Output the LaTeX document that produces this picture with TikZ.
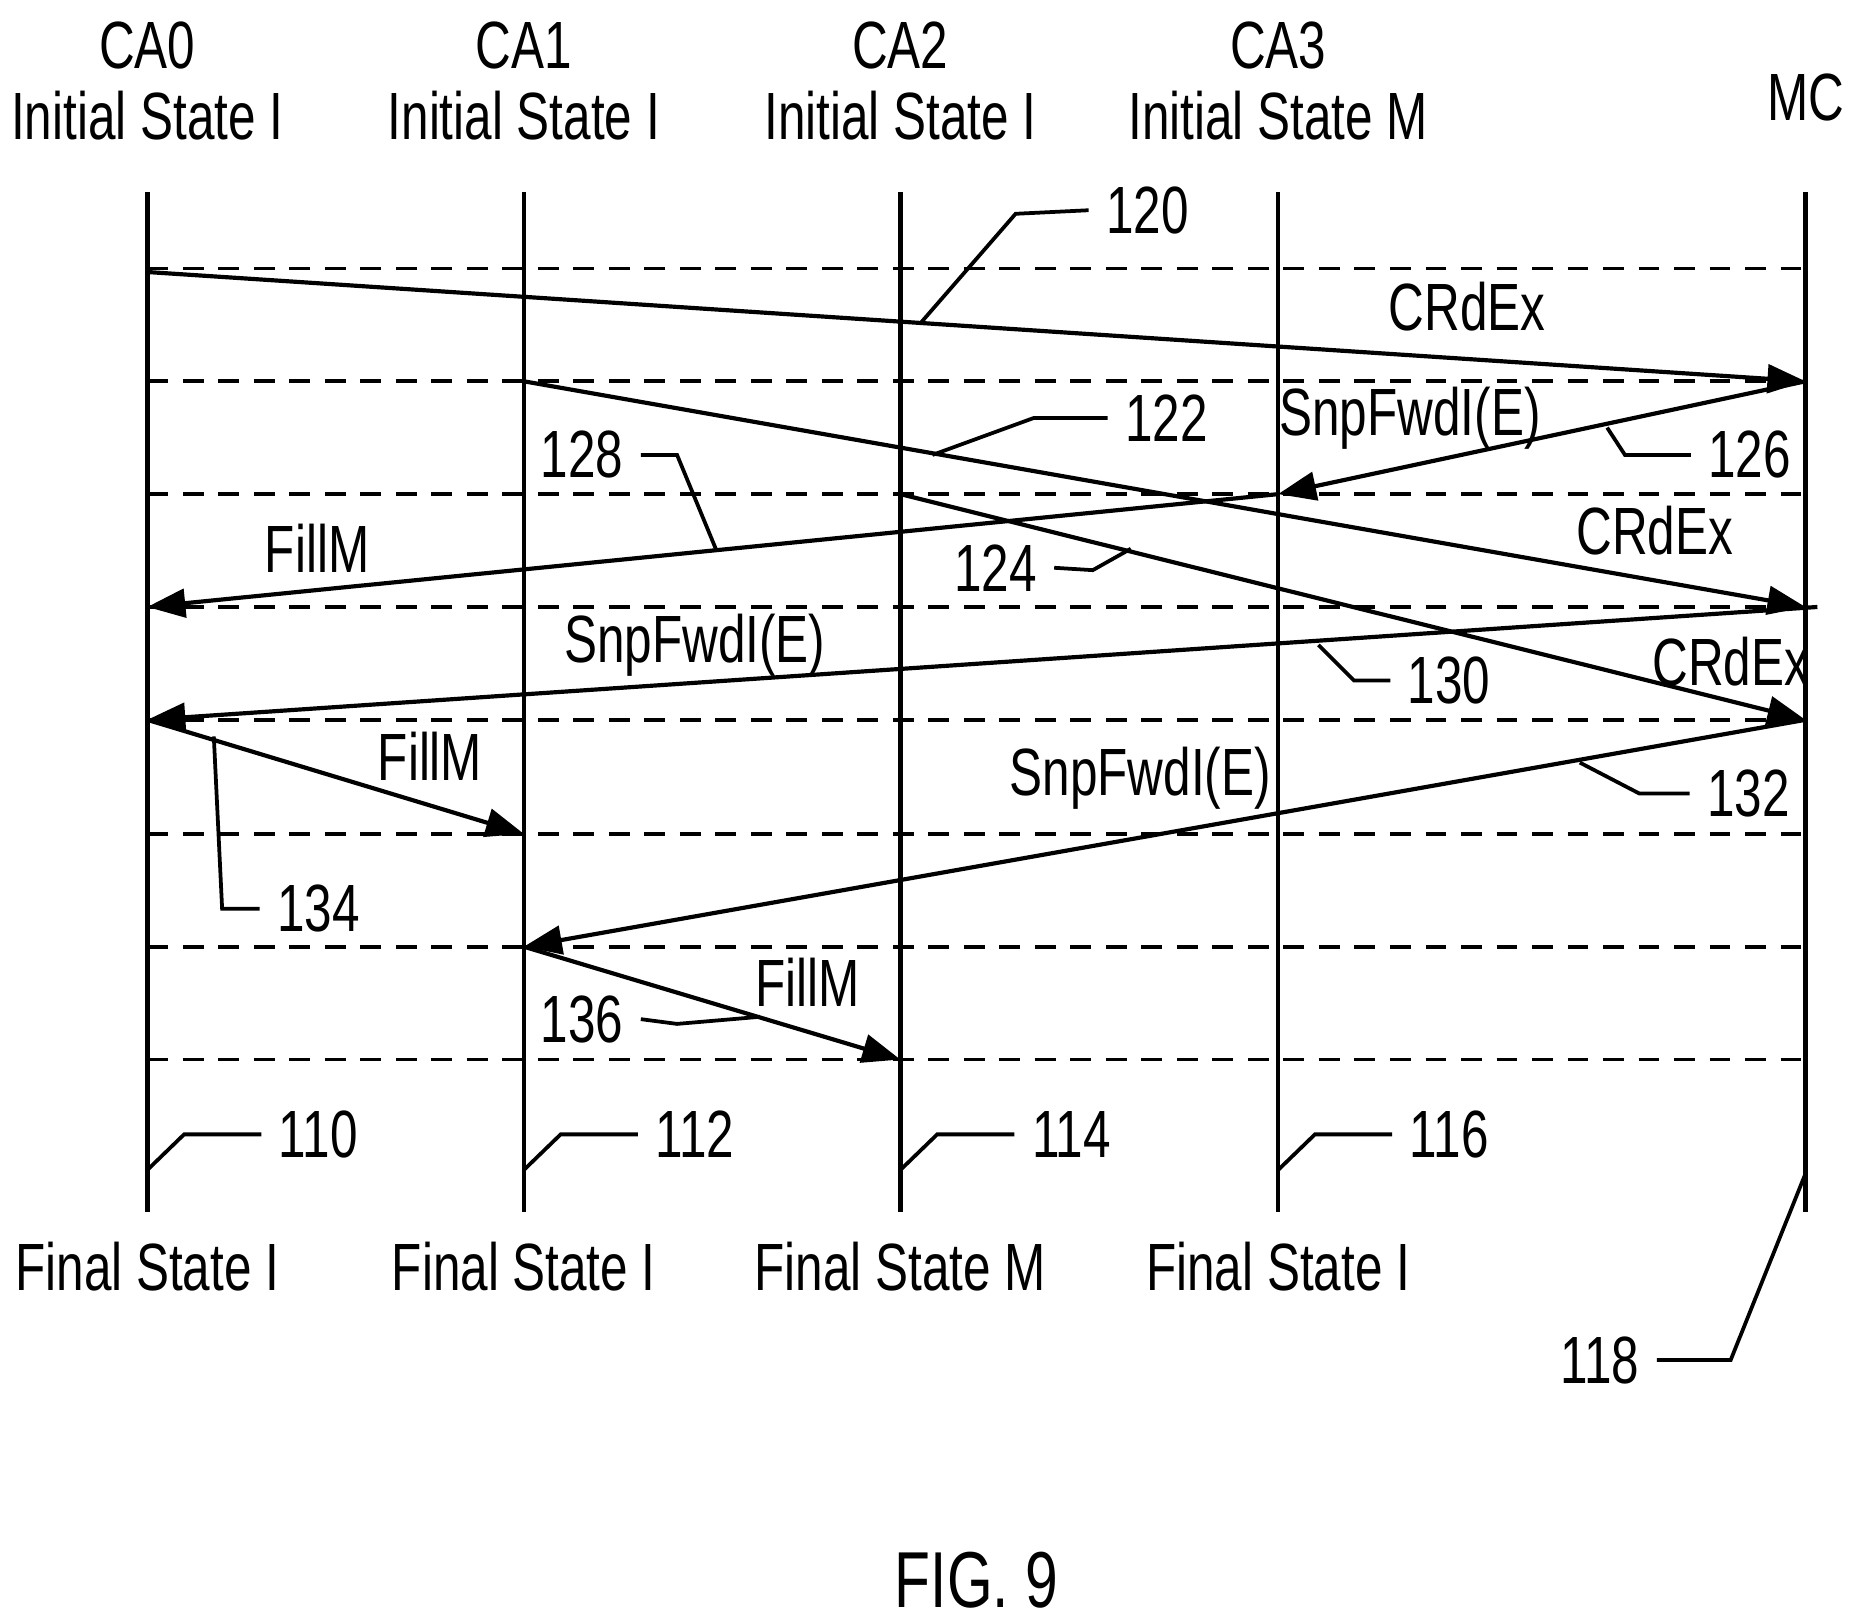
\documentclass[tikz,border=0pt]{standalone}
\usepackage{fontspec}
\setmainfont{Liberation Sans}[FakeStretch=0.74]
\usetikzlibrary{arrows.meta}
\begin{document}
\begin{tikzpicture}[x=0.01cm,y=-0.01cm,
  lane/.style={line width=1.1pt},
  dsh/.style={line width=0.9pt,dash pattern=on 5pt off 3.5pt},
  msg/.style={line width=1pt,-{Triangle[length=0.32cm,width=0.24cm]}},
  lead/.style={line width=0.9pt},
  txt/.style={font=\fontsize{16}{18}\selectfont,inner sep=0pt},
  big/.style={font=\fontsize{19}{21}\selectfont,inner sep=1pt}]
\useasboundingbox (0,0) rectangle (1560,1367);
% lanes
\foreach \n/\x in {a/124,b/441,c/758,d/1076,m/1520}{
  \coordinate (\n t) at (\x,162); \coordinate (\n b) at (\x,1020);
  \draw[lane] (\n t) -- (\n b);}
\foreach \y in {226,321,416,511,606,702,797,892}
  \draw[dsh] (124,\y) -- (1520,\y);
% headers
\node[txt] (h0) at (124,38) {CA0}; \node[txt] (i0) at (124,97) {Initial State I};
\node[txt] (h1) at (441,38) {CA1}; \node[txt] (i1) at (441,97) {Initial State I};
\node[txt] (h2) at (758,38) {CA2}; \node[txt] (i2) at (758,97) {Initial State I};
\node[txt] (h3) at (1076,38) {CA3}; \node[txt] (i3) at (1076,97) {Initial State M};
\node[txt] (hm) at (1520,82) {MC};
\node[txt] (f0) at (124,1066) {Final State I};
\node[txt] (f1) at (441,1066) {Final State I};
\node[txt] (f2) at (758,1066) {Final State M};
\node[txt] (f3) at (1076,1066) {Final State I};
\node[big] (fig) at (822,1330) {FIG. 9};
% message points
\coordinate (p1) at (124,229); \coordinate (q1) at (1520,321);
\coordinate (p2) at (441,321); \coordinate (q2) at (1520,511);
\coordinate (p3) at (1076,416); \coordinate (q3) at (124,511);
\coordinate (p4) at (758,416); \coordinate (q4) at (1520,606);
\coordinate (p5) at (1530,511); \coordinate (q5) at (124,606);
\coordinate (p6) at (441,702);
\coordinate (p7) at (441,797); \coordinate (p8) at (758,892);
\draw[msg] (p1) -- (q1);
\draw[msg] (p2) -- (q2);
\draw[msg] (q1) -- (p3);
\draw[msg] (p3) -- (q3);
\draw[msg] (p4) -- (q4);
\draw[msg] (p5) -- (q5);
\draw[msg] (q5) -- (p6);
\draw[msg] (q4) -- (p7);
\draw[msg] (p7) -- (p8);
\node[txt] (l1) at (1235,258) {CRdEx};
\node[txt] (l2) at (1393,447) {CRdEx};
\node[txt] (l3) at (1187,352) {SnpFwdI(E)};
\node[txt] (l4) at (267,462) {FillM};
\node[txt] (l5) at (1457,557) {CRdEx};
\node[txt] (l6) at (585,543) {SnpFwdI(E)};
\node[txt] (l7) at (362,637) {FillM};
\node[txt] (l8) at (960,655) {SnpFwdI(E)};
\node[txt] (l9) at (680,827) {FillM};
% reference numerals
\node[txt] (n120) at (966,177) {120}; \draw[lead] (775,272) -- (855,180) -- ([xshift=-4pt]n120.west);
\node[txt] (n122) at (982,352) {122}; \draw[lead] (785,383) -- (870,352) -- ([xshift=-4pt]n122.west);
\node[txt] (n126) at (1473,383) {126}; \draw[lead] (1353,360) -- (1368,383) -- ([xshift=-4pt]n126.west);
\node[txt] (n128) at (490,383) {128}; \draw[lead] ([xshift=4pt]n128.east) -- (570,383) -- (603,463);
\node[txt] (n124) at (838,478) {124}; \draw[lead] ([xshift=4pt]n124.east) -- (920,480) -- (952,462);
\node[txt] (n130) at (1220,573) {130}; \draw[lead] (1110,543) -- (1140,573) -- ([xshift=-4pt]n130.west);
\node[txt] (n132) at (1472,668) {132}; \draw[lead] (1330,642) -- (1380,668) -- ([xshift=-4pt]n132.west);
\node[txt] (n134) at (268,765) {134}; \draw[lead] (180,620) -- (187,765) -- ([xshift=-4pt]n134.west);
\node[txt] (n136) at (490,858) {136}; \draw[lead] ([xshift=4pt]n136.east) -- (570,862) -- (640,856);
\foreach \x/\t in {124/110,441/112,758/114,1076/116}{
  \node[txt] (n\t) at (\x+144,955) {\t};
  \draw[lead] (\x,985) -- (\x+31,955) -- ([xshift=-4pt]n\t.west);}
\node[txt] (n118) at (1347,1145) {118}; \draw[lead] (1520,988) -- (1457,1145) -- ([xshift=4pt]n118.east);
\end{tikzpicture}
\end{document}
